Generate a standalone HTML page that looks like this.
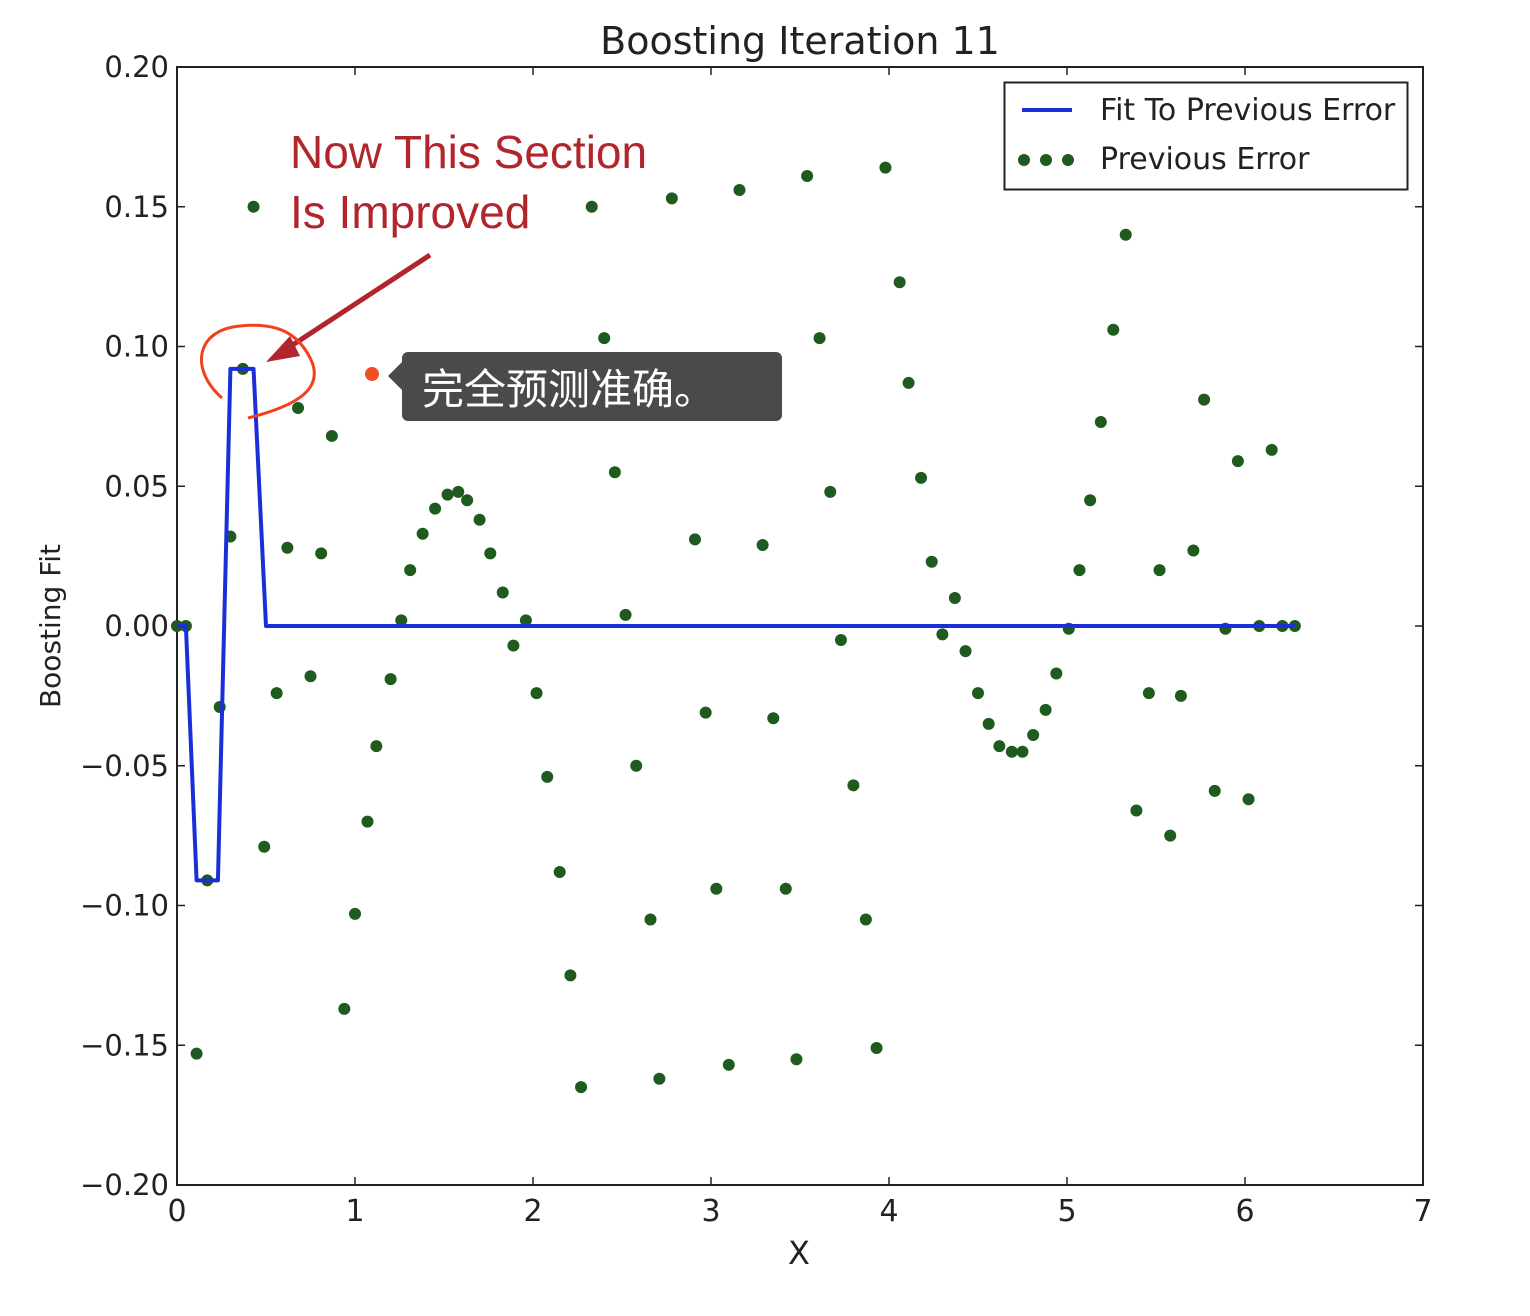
<!DOCTYPE html>
<html><head><meta charset="utf-8"><style>
html,body{margin:0;padding:0;background:#fff;}
svg{display:block;font-family:"DejaVu Sans","Liberation Sans","Noto Sans CJK SC",sans-serif;}
</style></head><body>
<svg id="chart" width="1530" height="1316" viewBox="0 0 1530 1316" xmlns="http://www.w3.org/2000/svg">
<rect width="1530" height="1316" fill="#fff"/>
<g id="axes"></g>
<g id="series"></g>
<text x="800" y="54" font-size="38" text-anchor="middle" fill="#222">Boosting Iteration 11</text>
<text x="799" y="1264" font-size="32" text-anchor="middle" fill="#222">X</text>
<text transform="translate(60,626) rotate(-90)" font-size="28" text-anchor="middle" fill="#222">Boosting Fit</text>
<g>
<rect x="1004.5" y="82.5" width="403" height="107" fill="#fff" stroke="#222" stroke-width="2"/>
<line x1="1022" y1="110" x2="1072" y2="110" stroke="#1a2fd8" stroke-width="4"/>
<text x="1100" y="120" font-size="30" fill="#222">Fit To Previous Error</text>
<circle cx="1024" cy="160" r="6" fill="#1f5a1f"/><circle cx="1046" cy="160" r="6" fill="#1f5a1f"/><circle cx="1068" cy="160" r="6" fill="#1f5a1f"/>
<text x="1100" y="169" font-size="30" fill="#222">Previous Error</text>
</g>
<g>
<text x="290" y="168" font-size="46" fill="#b0262c" font-family="Liberation Sans, sans-serif">Now This Section</text>
<text x="290" y="228" font-size="46" fill="#b0262c" font-family="Liberation Sans, sans-serif">Is Improved</text>
<line x1="430" y1="255" x2="285" y2="350" stroke="#b0262c" stroke-width="5"/>
<polygon points="266,362 290,336 300,356" fill="#b0262c"/>
<path d="M222,398 C190,370 195,330 240,326 C280,322 300,335 312,362 C322,388 300,405 248,418" fill="none" stroke="#f0401c" stroke-width="3"/>
</g>
<g>
<circle cx="372" cy="374" r="7" fill="#f05020"/>
<polygon points="402,362 388,376 402,390" fill="#4a4a4a"/>
<rect x="402" y="352" width="380" height="69" rx="6" fill="#4a4a4a"/>
<text x="422" y="404" font-size="42" fill="#fff" font-family="Liberation Sans, Noto Sans CJK SC, sans-serif">完全预测准确。</text>
</g>
</svg>
<script>
const xTicks=[0,1,2,3,4,5,6,7];
const yTicks=[0.20,0.15,0.10,0.05,0.00,-0.05,-0.10,-0.15,-0.20];
const errX=[0.00,0.05,0.11,0.17,0.24,0.30,0.37,0.43,0.49,0.56,0.62,0.68,0.75,0.81,0.87,0.94,1.00,1.07,1.12,1.20,1.26,1.31,1.38,1.45,1.52,1.58,1.63,1.70,1.76,1.83,1.89,1.96,2.02,2.08,2.15,2.21,2.27,2.33,2.40,2.46,2.52,2.58,2.66,2.71,2.78,2.84,2.91,2.97,3.03,3.10,3.16,3.22,3.29,3.35,3.42,3.48,3.54,3.61,3.67,3.73,3.80,3.87,3.93,3.98,4.06,4.11,4.18,4.24,4.30,4.37,4.43,4.50,4.56,4.62,4.69,4.75,4.81,4.88,4.94,5.01,5.07,5.13,5.19,5.26,5.33,5.39,5.46,5.52,5.58,5.64,5.71,5.77,5.83,5.89,5.96,6.02,6.08,6.15,6.21,6.28];
const errY=[0,0,-0.153,-0.091,-0.029,0.032,0.092,0.150,-0.079,-0.024,0.028,0.078,-0.018,0.026,0.068,-0.137,-0.103,-0.070,-0.043,-0.019,0.002,0.020,0.033,0.042,0.047,0.048,0.045,0.038,0.026,0.012,-0.007,0.002,-0.024,-0.054,-0.088,-0.125,-0.165,0.150,0.103,0.055,0.004,-0.050,-0.105,-0.162,0.153,0.093,0.031,-0.031,-0.094,-0.157,0.156,0.092,0.029,-0.033,-0.094,-0.155,0.161,0.103,0.048,-0.005,-0.057,-0.105,-0.151,0.164,0.123,0.087,0.053,0.023,-0.003,0.010,-0.009,-0.024,-0.035,-0.043,-0.045,-0.045,-0.039,-0.030,-0.017,-0.001,0.020,0.045,0.073,0.106,0.140,-0.066,-0.024,0.020,-0.075,-0.025,0.027,0.081,-0.059,-0.001,0.059,-0.062,0.000,0.063,0.000,0.000];
const fitX=[0,0.05,0.11,0.23,0.30,0.43,0.50,6.28];
const fitY=[0,0,-0.091,-0.091,0.092,0.092,0,0];
const L=177,R=1423,T=67,B=1185;
const sx=v=>L+(v-0)/7*(R-L);
const sy=v=>B-(v+0.2)/0.4*(B-T);
const NS='http://www.w3.org/2000/svg';
function mk(tag,attrs,parent){const e=document.createElementNS(NS,tag);for(const k in attrs)e.setAttribute(k,attrs[k]);parent.appendChild(e);return e;}
const ax=document.getElementById('axes');
const frame=mk('rect',{x:L,y:T,width:R-L,height:B-T,fill:'none',stroke:'#222','stroke-width':2},ax);


xTicks.forEach(t=>{
  const x=sx(t);
  mk('line',{x1:x,y1:B,x2:x,y2:B-8,stroke:'#222','stroke-width':1.5},ax);
  mk('line',{x1:x,y1:T,x2:x,y2:T+8,stroke:'#222','stroke-width':1.5},ax);
  const tx=mk('text',{x:x,y:B+36,'font-size':30,'text-anchor':'middle',fill:'#222'},ax);
  tx.textContent=t;
  
  
});
yTicks.forEach(t=>{
  const y=sy(t);
  mk('line',{x1:L,y1:y,x2:L+8,y2:y,stroke:'#222','stroke-width':1.5},ax);
  mk('line',{x1:R,y1:y,x2:R-8,y2:y,stroke:'#222','stroke-width':1.5},ax);
  const tx=mk('text',{x:L-8,y:y+10,'font-size':29,'text-anchor':'end',fill:'#222'},ax);
  tx.textContent=(t<0?'\u2212':'')+Math.abs(t).toFixed(2);
  
  
});
const sr=document.getElementById('series');
errX.forEach((x,i)=>{
  const c=mk('circle',{cx:sx(x),cy:sy(errY[i]),r:6,fill:'#1f5a1f'},sr);
  
  
});
const pl=mk('polyline',{points:fitX.map((x,i)=>sx(x)+','+sy(fitY[i])).join(' '),fill:'none',stroke:'#1a2fd8','stroke-width':4,'stroke-linejoin':'round'},sr);


</script>
</body></html>
